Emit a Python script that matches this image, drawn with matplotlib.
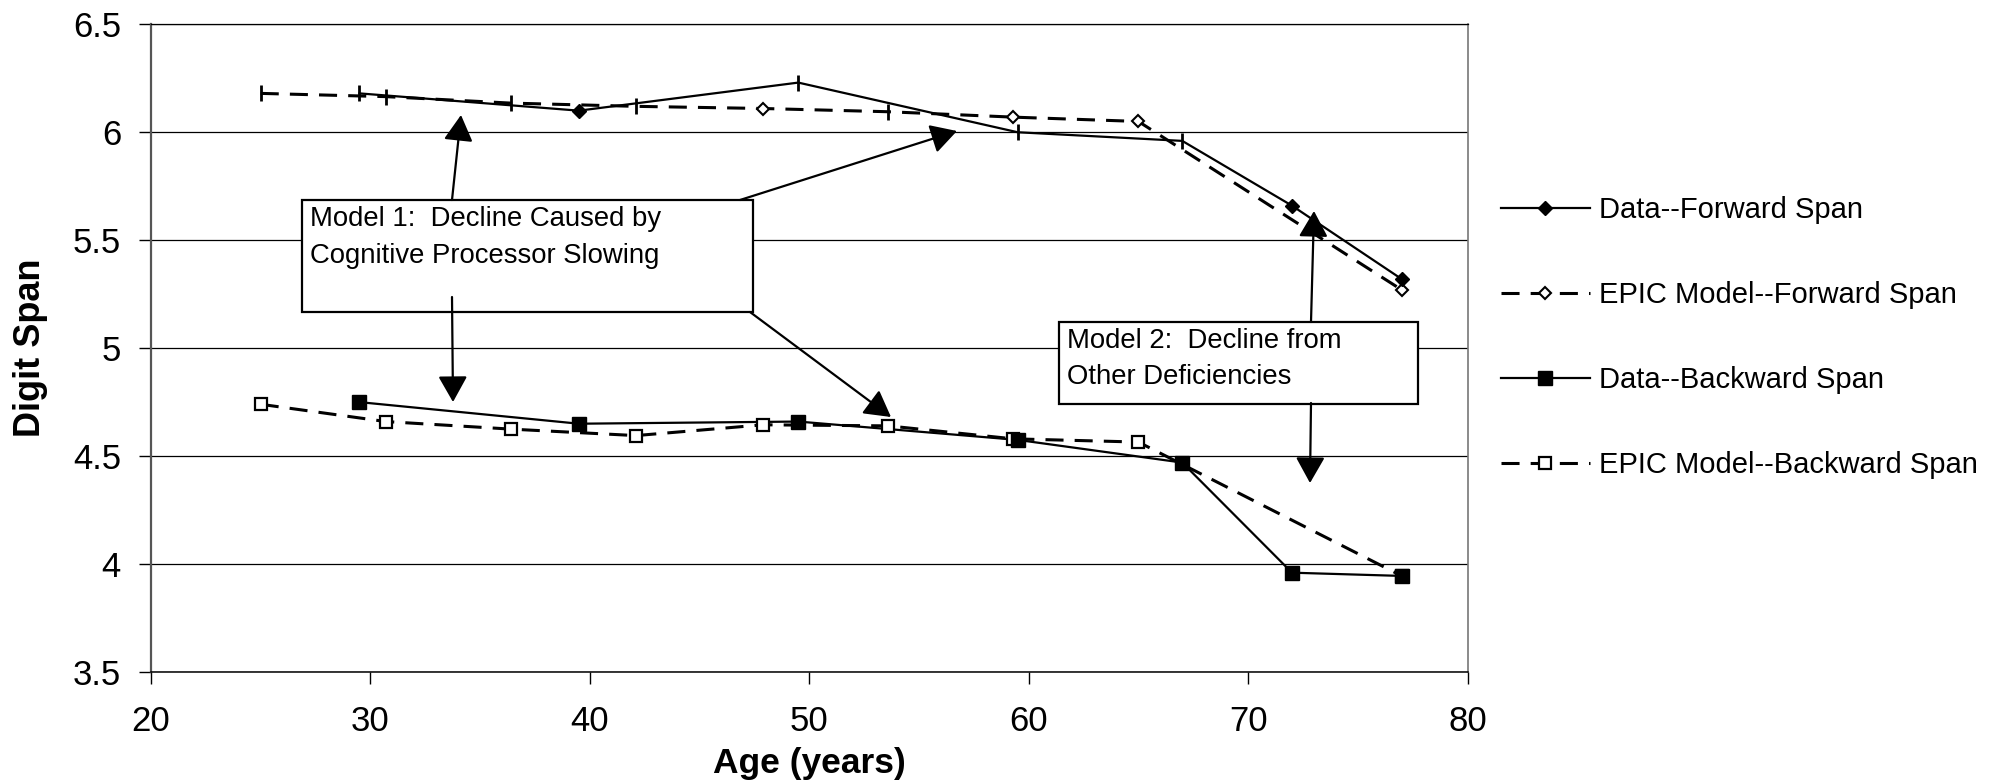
import matplotlib
matplotlib.use('Agg')
import matplotlib.pyplot as plt
from matplotlib.lines import Line2D
from matplotlib.patches import Rectangle, FancyArrowPatch

plt.rcParams['font.family'] = ['Liberation Sans', 'DejaVu Sans']
plt.rcParams['lines.scale_dashes'] = False

# ---------------- data ----------------
ages_data = [29.5, 39.5, 49.5, 59.5, 67.0, 72.0, 77.0]
fwd_data = [6.18, 6.10, 6.23, 6.00, 5.96, 5.66, 5.32]
bwd_data = [4.75, 4.65, 4.66, 4.575, 4.47, 3.96, 3.945]

ages_model = [25.0, 30.7, 36.4, 42.1, 47.9, 53.6, 59.3, 65.0, 77.0]
fwd_model = [6.18, 6.165, 6.135, 6.12, 6.11, 6.095, 6.07, 6.05, 5.27]
bwd_model = [4.74, 4.66, 4.625, 4.595, 4.645, 4.64, 4.58, 4.565, 3.945]

fwd_data_marks = ['|', 'D', '|', '|', '|', 'D', 'D']
fwd_model_marks = ['|', '|', '|', '|', 'D', '|', 'D', 'D', 'D']

series_labels = ['Data--Forward Span', 'EPIC Model--Forward Span',
                 'Data--Backward Span', 'EPIC Model--Backward Span']
x_ticks = [20, 30, 40, 50, 60, 70, 80]
y_ticks = [3.5, 4, 4.5, 5, 5.5, 6, 6.5]
y_tick_labels = ['3.5', '4', '4.5', '5', '5.5', '6', '6.5']
x_label = 'Age (years)'
y_label = 'Digit Span'
box1_lines = ['Model 1:  Decline Caused by', 'Cognitive Processor Slowing']
box2_lines = ['Model 2:  Decline from', 'Other Deficiencies']

# ---------------- figure ----------------
W, H = 1995, 780
fig = plt.figure(figsize=(W / 100, H / 100), dpi=100)
L, R, T, B = 151, 1467.5, 24.3, 672
ax = fig.add_axes([L / W, 1 - B / H, (R - L) / W, (B - T) / H])
ax.set_xlim(20, 80)
ax.set_ylim(3.5, 6.5)
ax.set_xticks(x_ticks)
ax.set_xticklabels([str(v) for v in x_ticks])
ax.set_yticks(y_ticks)
ax.set_yticklabels(y_tick_labels)
ax.tick_params(axis='both', labelsize=25, length=8.6, width=1.0, color='black')
ax.tick_params(axis='y', pad=13)
ax.tick_params(axis='x', pad=15)
ax.yaxis.grid(True, color='black', linewidth=0.9)
ax.set_axisbelow(True)
ax.spines['left'].set_color('#555555')
ax.spines['left'].set_linewidth(1.6)
ax.spines['right'].set_color('#777777')
ax.spines['right'].set_linewidth(1.2)
ax.spines['bottom'].set_linewidth(1.1)
ax.spines['top'].set_linewidth(0.9)

DASH = (0, (13, 8))
LW_SOLID = 1.6
LW_DASH = 2.2

# lines
ax.plot(ages_data, fwd_data, color='black', lw=LW_SOLID, zorder=3)
ax.plot(ages_model, fwd_model, color='black', lw=LW_DASH, ls=DASH, zorder=3)
ax.plot(ages_data, bwd_data, color='black', lw=LW_SOLID, zorder=3)
ax.plot(ages_model, bwd_model, color='black', lw=LW_DASH, ls=DASH, zorder=3)

def draw_marks(xs, ys, marks, filled):
    for x, y, m in zip(xs, ys, marks):
        if m == '|':
            ax.plot([x], [y], marker='|', ms=12, mew=2.0, color='black', zorder=4)
        else:
            if filled:
                ax.plot([x], [y], marker='D', ms=7.5, mfc='black', mec='black', mew=1.0, zorder=4)
            else:
                ax.plot([x], [y], marker='D', ms=6, mfc='white', mec='black', mew=1.5, zorder=4)

draw_marks(ages_model, fwd_model, fwd_model_marks, False)
draw_marks(ages_data, fwd_data, fwd_data_marks, True)
ax.plot(ages_model, bwd_model, ls='none', marker='s', ms=9, mfc='white', mec='black', mew=1.6, zorder=4)
ax.plot(ages_data, bwd_data, ls='none', marker='s', ms=10, mfc='black', mec='black', zorder=5)

# ---------------- annotation boxes ----------------
def px2data(px, py):
    return (20 + (px - L) / (R - L) * 60, 6.5 - (py - T) / (B - T) * 3)

def add_box(x0, y0, x1, y1, lines, baselines):
    (dx0, dy0), (dx1, dy1) = px2data(x0, y1), px2data(x1, y0)
    ax.add_patch(Rectangle((dx0, dy0), dx1 - dx0, dy1 - dy0, facecolor='white',
                           edgecolor='black', lw=1.6, zorder=6))
    for s, bl in zip(lines, baselines):
        tx, ty = px2data(x0 + 8, bl)
        ax.text(tx, ty, s, fontsize=19.8, va='baseline', ha='left', zorder=7)

add_box(302, 200, 753, 312, box1_lines, [226, 263])
add_box(1059, 322, 1418, 404, box2_lines, [348, 384])

def arrow(p0, p1):
    a = FancyArrowPatch(px2data(*p0), px2data(*p1),
                        arrowstyle='-|>,head_length=16,head_width=9',
                        mutation_scale=1, color='black', lw=1.6,
                        shrinkA=0, shrinkB=0, zorder=8)
    ax.add_patch(a)

arrow((452, 200), (461, 115))
arrow((740, 200), (957, 131))
arrow((452, 297), (453, 402))
arrow((750, 312), (891, 417))
arrow((1311, 322), (1314, 211))
arrow((1311, 403), (1310, 483))

# ---------------- axis labels ----------------
fig.text(809.5 / W, 1 - 763 / H, x_label, fontsize=25.5, fontweight='bold',
         ha='center', va='center')
fig.text(31 / W, 1 - 348 / H, y_label, fontsize=26, fontweight='bold',
         rotation=90, ha='center', va='center')

# ---------------- legend ----------------
handles = [
    Line2D([], [], color='black', lw=LW_SOLID, marker='D', ms=7.5, mfc='black', mec='black'),
    Line2D([], [], color='black', lw=LW_DASH, ls=DASH, marker='D', ms=6, mfc='white', mec='black', mew=1.5),
    Line2D([], [], color='black', lw=LW_SOLID, marker='s', ms=10, mfc='black', mec='black'),
    Line2D([], [], color='black', lw=LW_DASH, ls=DASH, marker='s', ms=9, mfc='white', mec='black', mew=1.6),
]
fig.legend(handles, series_labels, loc='center left',
           bbox_to_anchor=(1501 / W, 1 - 337.5 / H), frameon=False,
           fontsize=21, handlelength=3.05, handletextpad=0.3,
           labelspacing=1.95, borderpad=0, borderaxespad=0)

fig.savefig('out.png', dpi=100)
